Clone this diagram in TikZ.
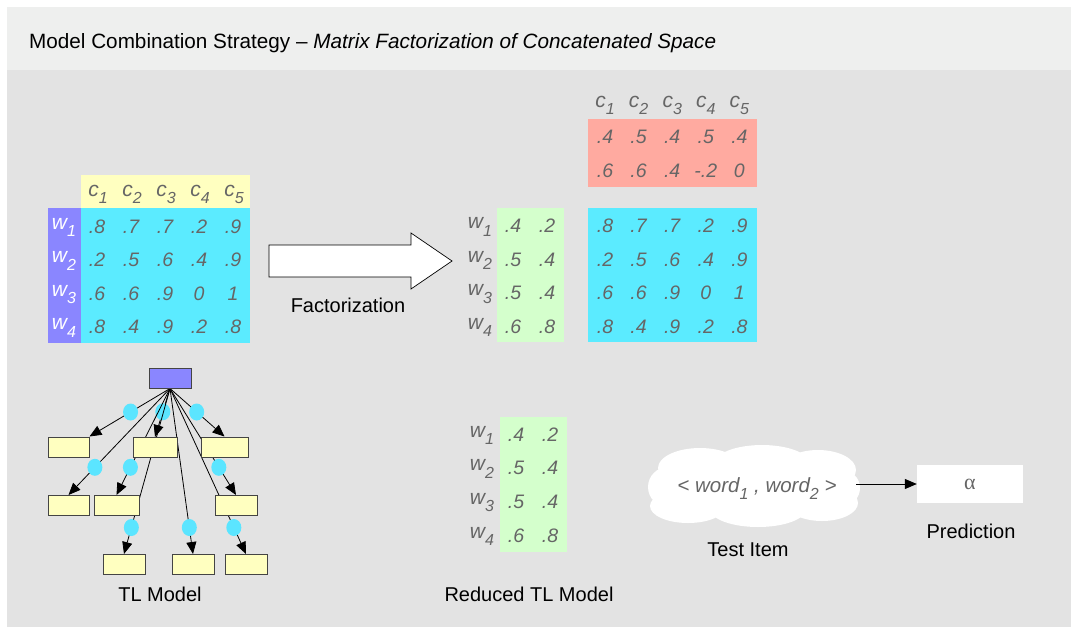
\documentclass[tikz,border=0pt]{standalone}
\usepackage{fontspec}
\setmainfont{Liberation Sans}
\newfontfamily\greekserif{Liberation Serif}
\usetikzlibrary{arrows.meta,shapes.geometric}

\definecolor{bandgray}{HTML}{EEEFEE}
\definecolor{panelgray}{HTML}{E3E3E3}
\definecolor{cellyellow}{HTML}{FFFFC0}
\definecolor{rowpurple}{HTML}{8A86FF}
\definecolor{cellcyan}{HTML}{5BEBFF}
\definecolor{cellred}{HTML}{FFAAA0}
\definecolor{cellgreen}{HTML}{D4FFCC}
\definecolor{numgray}{HTML}{666666}
\definecolor{dotcyan}{HTML}{5BE5FF}
\definecolor{boxedge}{HTML}{444444}

% lowered subscript used by the w_i / c_j labels
\newcommand\lowsub[1]{\raisebox{-7.5pt}{\fontsize{16}{16}\selectfont #1}}

\pgfdeclarelayer{background}
\pgfdeclarelayer{edges}
\pgfsetlayers{background,edges,main}

\begin{document}
\begin{tikzpicture}[x=1pt,y=-1pt,
  num/.style={font=\fontsize{19.5}{20}\selectfont\itshape, text=numgray, inner sep=0pt, anchor=base},
  lab/.style={font=\fontsize{21}{21}\selectfont\itshape, text=numgray, inner sep=0pt, anchor=base},
  caption/.style={font=\fontsize{20}{20}\selectfont, inner sep=0pt, anchor=base},
  block/.style={inner sep=0pt, anchor=north west},
  tlbox/.style={draw=boxedge, fill=cellyellow, line width=1pt, minimum width=42pt, minimum height=20pt, inner sep=0pt},
  dot/.style={shape=ellipse, fill=dotcyan, minimum width=15pt, minimum height=17pt, inner sep=0pt},
  link/.style={line width=0.8pt, -{Triangle[length=12pt,width=10pt]}}
]
\useasboundingbox (0,0) rectangle (1071,627);

% ---------- panel and title band ----------
\begin{pgfonlayer}{background}
  \fill[white] (0,0) rectangle (1071,627);
  \fill[panelgray] (7,7) rectangle (1071,627);
  \fill[bandgray] (7,7) rectangle (1071,70);
\end{pgfonlayer}
\node[font=\fontsize{20.7}{21}\selectfont, anchor=base west, inner sep=0pt] (title) at (29,48)
  {Model Combination Strategy -- \textit{Matrix Factorization of Concatenated Space}};

% ---------- original word-by-context matrix ----------
\node[block, fill=cellyellow, minimum width=169pt, minimum height=33pt] (lhead) at (81,175) {};
\node[block, fill=rowpurple, minimum width=33pt, minimum height=135pt] (lrows) at (48,208) {};
\node[block, fill=cellcyan, minimum width=169pt, minimum height=135pt] (lbody) at (81,208) {};
\foreach \c in {1,...,5} {
  \pgfmathsetmacro\xx{98+(\c-1)*34}
  \node[lab] (lc\c) at (\xx,196) {c\lowsub{\c}};
}
\foreach \r in {1,...,4} {
  \pgfmathsetmacro\yy{229+(\r-1)*33.5}
  \node[lab, text=white] (lw\r) at (64,\yy) {w\lowsub{\r}};
}
\foreach \row [count=\r] in {{.8,.7,.7,.2,.9},{.2,.5,.6,.4,.9},{.6,.6,.9,0,1},{.8,.4,.9,.2,.8}} {
  \foreach \v [count=\c] in \row {
    \pgfmathsetmacro\xx{97+(\c-1)*34}
    \pgfmathsetmacro\yy{233+(\r-1)*33.5}
    \node[num] (l\r\c) at (\xx,\yy) {\v};
  }
}

% ---------- factorization arrow ----------
\draw[fill=white, line width=0.7pt] (269,245) -- (411,245) -- (411,233) -- (452,261)
  -- (411,289) -- (411,277) -- (269,277) -- cycle;
\node[caption] (factlabel) at (348,312) {Factorization};

% ---------- factor matrices ----------
\node[block, fill=cellred, minimum width=169pt, minimum height=68pt] (rred) at (588,119) {};
\node[block, fill=cellcyan, minimum width=169pt, minimum height=134pt] (rbody) at (588,208) {};
\node[block, fill=cellgreen, minimum width=67pt, minimum height=134pt] (gtop) at (497,208) {};
\foreach \c in {1,...,5} {
  \pgfmathsetmacro\xx{605+(\c-1)*33.6}
  \node[lab] (rc\c) at (\xx,107) {c\lowsub{\c}};
}
\foreach \row [count=\r] in {{.4,.5,.4,.5,.4},{.6,.6,.4,-.2,0}} {
  \foreach \v [count=\c] in \row {
    \pgfmathsetmacro\xx{605+(\c-1)*33.6}
    \pgfmathsetmacro\yy{143+(\r-1)*34}
    \node[num] (h\r\c) at (\xx,\yy) {\v};
  }
}
\foreach \row [count=\r] in {{.8,.7,.7,.2,.9},{.2,.5,.6,.4,.9},{.6,.6,.9,0,1},{.8,.4,.9,.2,.8}} {
  \foreach \v [count=\c] in \row {
    \pgfmathsetmacro\xx{605+(\c-1)*33.6}
    \pgfmathsetmacro\yy{232.5+(\r-1)*33.5}
    \node[num] (r\r\c) at (\xx,\yy) {\v};
  }
}
\foreach \row [count=\r] in {{.4,.2},{.5,.4},{.5,.4},{.6,.8}} {
  \pgfmathsetmacro\yy{232.5+(\r-1)*33.5}
  \pgfmathsetmacro\ww{\yy-4}
  \node[lab] (gw\r) at (480,\ww) {w\lowsub{\r}};
  \foreach \v [count=\c] in \row {
    \pgfmathsetmacro\xx{513+(\c-1)*34}
    \node[num] (g\r\c) at (\xx,\yy) {\v};
  }
}

% ---------- reduced model ----------
\node[block, fill=cellgreen, minimum width=67pt, minimum height=135pt] (gred) at (500,417) {};
\foreach \row [count=\r] in {{.4,.2},{.5,.4},{.5,.4},{.6,.8}} {
  \pgfmathsetmacro\yy{441+(\r-1)*33.7}
  \pgfmathsetmacro\ww{\yy-4}
  \node[lab] (bw\r) at (482,\ww) {w\lowsub{\r}};
  \foreach \v [count=\c] in \row {
    \pgfmathsetmacro\xx{516+(\c-1)*34}
    \node[num] (b\r\c) at (\xx,\yy) {\v};
  }
}
\node[caption] (redlabel) at (529,601) {Reduced TL Model};

% ---------- TL model tree ----------
\node[tlbox, fill=rowpurple] (root) at (170,378) {};
\node[tlbox, minimum width=41pt] (A) at (68.5,447) {};
\node[tlbox, minimum width=44pt] (B) at (155,447.5) {};
\node[tlbox, minimum width=47pt] (C) at (224.5,447) {};
\node[tlbox, minimum width=41pt] (D) at (68.5,505.5) {};
\node[tlbox, minimum width=45pt] (E) at (116.5,505.5) {};
\node[tlbox] (F) at (236,505.5) {};
\node[tlbox] (G) at (124,564.5) {};
\node[tlbox] (H) at (193,564.5) {};
\node[tlbox] (I) at (246,564.5) {};
\begin{pgfonlayer}{edges}
  \draw[link] (root.south) -- node[dot, pos=.49] (dA) {} (A.north east);
  \draw[link] (root.south) -- node[dot, pos=.48] (dB) {} (B.north);
  \draw[link] (root.south) -- node[dot, pos=.49] (dC) {} (C.north);
  \draw[link] (root.south) -- node[dot, pos=.74] (dD) {} (D.north);
  \draw[link] (root.south) -- node[dot, pos=.74] (dE) {} (E.north);
  \draw[link] (root.south) -- node[dot, pos=.74] (dF) {} (F.north);
  \draw[link] (root.south) -- node[dot, pos=.84] (dG) {} (G.north);
  \draw[link] (root.south) -- node[dot, pos=.84] (dH) {} (H.north);
  \draw[link] (root.south) -- node[dot, pos=.84] (dI) {} (I.north);
\end{pgfonlayer}
\node[caption] (tllabel) at (160,601) {TL Model};

% ---------- test item cloud and prediction ----------
\fill[white]
  (754,486) ellipse [x radius=95, y radius=28]
  (700,468) ellipse [x radius=42, y radius=20]
  (762,464) ellipse [x radius=48, y radius=19]
  (818,470) ellipse [x radius=38, y radius=20]
  (688,506) ellipse [x radius=38, y radius=17]
  (758,509) ellipse [x radius=48, y radius=18]
  (822,503) ellipse [x radius=36, y radius=18]
  (668,487) ellipse [x radius=20, y radius=20]
  (842,488) ellipse [x radius=18, y radius=18];
\node[num, font=\fontsize{20.5}{21}\selectfont\itshape] (pair) at (757,492)
  {< word\lowsub{1} , word\lowsub{2} >};
\coordinate (cloudedge) at (856,484);
\node[fill=white, minimum width=106pt, minimum height=38pt, inner sep=0pt,
      text=numgray, font=\fontsize{22}{22}\greekserif] (pred) at (970,484) {α};
\draw[link, line width=1pt] (cloudedge) -- (pred.west);
\node[caption] (testlabel) at (748,556) {Test Item};
\node[caption] (predlabel) at (971,538) {Prediction};
\end{tikzpicture}
\end{document}
